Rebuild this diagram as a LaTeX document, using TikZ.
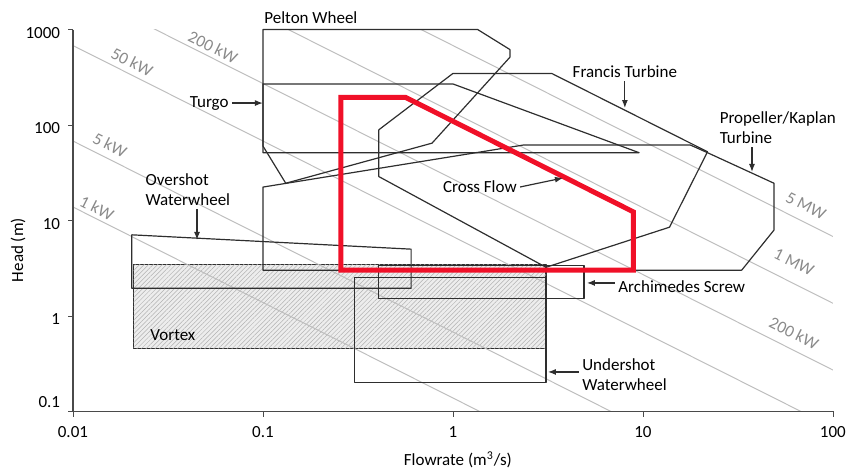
\documentclass[tikz,border=0pt]{standalone}
\usepackage{fontspec}
\setmainfont{Carlito}
\usetikzlibrary{arrows.meta,patterns.meta}
\definecolor{outline}{HTML}{2E2E2E}
\definecolor{powergray}{HTML}{BEBEBE}
\definecolor{powertext}{HTML}{8A8A8A}
\definecolor{axisgray}{HTML}{4A4A4A}
\definecolor{crossred}{RGB}{240,16,40}

\begin{document}
\begin{tikzpicture}[x=95pt, y=47.75pt]
	\tikzstyle{every node}=[font=\fontsize{8.5}{10}\selectfont, inner sep=1.5pt]
	\tikzstyle{turbine}=[draw=outline, line width=0.6pt, line join=round]
	\tikzstyle{power}=[draw=powergray, line width=0.5pt]
	\tikzstyle{powerlabel}=[text=powertext, rotate=-26.7]
	\tikzstyle{pointer}=[draw=outline, line width=0.6pt, -{Latex[length=4pt,width=3pt]}]
	\useasboundingbox (-2.384,-1.634) rectangle (2.111,3.309);

	%vortex
	\draw[turbine, fill=black!7, postaction={pattern={Lines[angle=45,distance=1.6pt,line width=0.25pt]}, pattern color=black!30}] (-1.68,0.54) rectangle (0.49,-0.34);

	%power lines
	\begin{scope}
		\clip (-2,-1) rectangle (2,3);
		\foreach \p in {1,5,50,200,1000,5000}{
			\pgfmathsetmacro{\c}{ln(\p/7.3575)/ln(10)}
			\draw[power] ({\c-4},4) -- ({\c+2},-2);
		}
	\end{scope}
	\node[powerlabel] (p200 top) at (-1.263,2.817) {200 kW};
	\node[powerlabel] (p50) at (-1.689,2.66) {50 kW};
	\node[powerlabel] (p5) at (-1.805,1.79) {5 kW};
	\node[powerlabel] (p1) at (-1.874,1.131) {1 kW};
	\node[powerlabel] (p5000) at (1.858,1.152) {5 MW};
	\node[powerlabel] (p1000) at (1.795,0.565) {1 MW};
	\node[powerlabel] (p200 bottom) at (1.795,-0.178) {200 kW};

	%axis
	\draw[axisgray, line width=0.6pt] (-2,3) -- (-2,-1) -- (2,-1);

	%ticks
	\foreach \x/\lab in {-2/0.01, -1/0.1, 0/1, 1/10, 2/100}
		\draw[axisgray] (\x,-1) -- (\x,-1.06) node[below=3pt, text=black] {\lab};
	\foreach \y/\ly/\lab in {3/2.965/1000, 2/1.965/100, 1/0.965/10, 0/-0.035/1, -1/-0.9/0.1}{
		\draw[axisgray] (-2,\y) -- (-2.026,\y);
		\node[anchor=east] at (-2.05,\ly) {\lab};
	}

	%turbine ranges
	\draw[turbine] (-1,3) -- (0.13,3) -- (0.30,2.79) -- (0.30,2.71) -- (-0.11,1.81) -- (-0.88,1.39) -- (-1,1.78) -- cycle;
	\draw[turbine] (-1,2.43) -- (0,2.43) -- (0.98,1.71) -- (-1,1.71) -- cycle;
	\draw[turbine] (0,2.54) -- (0.52,2.54) -- (1.34,1.72) -- (1.14,0.93) -- (0.49,0.51) -- (-0.39,1.46) -- (-0.39,1.95) -- cycle;
	\draw[turbine] (-1,1.35) -- (0.37,1.79) -- (1.25,1.79) -- (1.34,1.71) -- (1.69,1.39) -- (1.69,0.90) -- (1.52,0.48) -- (-1,0.48) -- cycle;
	\draw[turbine] (-1.69,0.85) -- (-0.22,0.70) -- (-0.22,0.29) -- (-1.69,0.29) -- cycle;
	\draw[turbine] (-0.52,0.40) rectangle (0.49,-0.70);
	\draw[turbine] (-0.39,0.53) rectangle (0.69,0.18);
	\draw[crossred, line width=2.5pt, line join=miter] (-0.59,2.29) -- (-0.25,2.29) -- (0.95,1.09) -- (0.95,0.48) -- (-0.59,0.48) -- cycle;

	%labels
	\node[anchor=west] (pelton) at (-1.01,3.12) {Pelton Wheel};
	\coordinate (turgo tip) at (-1,2.23);
	\node[anchor=east] (turgo) at (-1.163,2.23) {Turgo};
	\draw[pointer] (turgo.east) -- (turgo tip);
	\coordinate (francis tip) at (0.905,2.178);
	\node (francis) at (0.905,2.555) {Francis Turbine};
	\draw[pointer] (francis.south) -- (francis tip);
	\coordinate (kaplan tip) at (1.574,1.508);
	\node[align=left] (kaplan) at (1.71,1.969) {Propeller/Kaplan\\Turbine};
	\draw[pointer] (kaplan.south -| kaplan tip) -- (kaplan tip);
	\coordinate (crossflow tip) at (0.579,1.445);
	\node (crossflow) at (0.142,1.351) {Cross Flow};
	\draw[pointer] (crossflow.east) -- (crossflow tip);
	\coordinate (overshot tip) at (-1.347,0.796);
	\node[align=left] (overshot) at (-1.395,1.319) {Overshot\\Waterwheel};
	\draw[pointer] (overshot.south -| overshot tip) -- (overshot tip);
	\coordinate (archimedes tip) at (0.705,0.346);
	\node[anchor=west] (archimedes) at (0.853,0.304) {Archimedes Screw};
	\draw[pointer] (archimedes.west |- archimedes tip) -- (archimedes tip);
	\coordinate (undershot tip) at (0.50,-0.586);
	\node[anchor=west, align=left] (undershot) at (0.663,-0.618) {Undershot\\Waterwheel};
	\draw[pointer] (undershot.west |- undershot tip) -- (undershot tip);
	\node (vortex) at (-1.474,-0.199) {Vortex};
	\node[rotate=90] (head label) at (-2.289,0.69) {Head (m)};
	\node (flow label) at (0.026,-1.508) {Flowrate (m\textsuperscript{3}/s)};
\end{tikzpicture}
\end{document}
